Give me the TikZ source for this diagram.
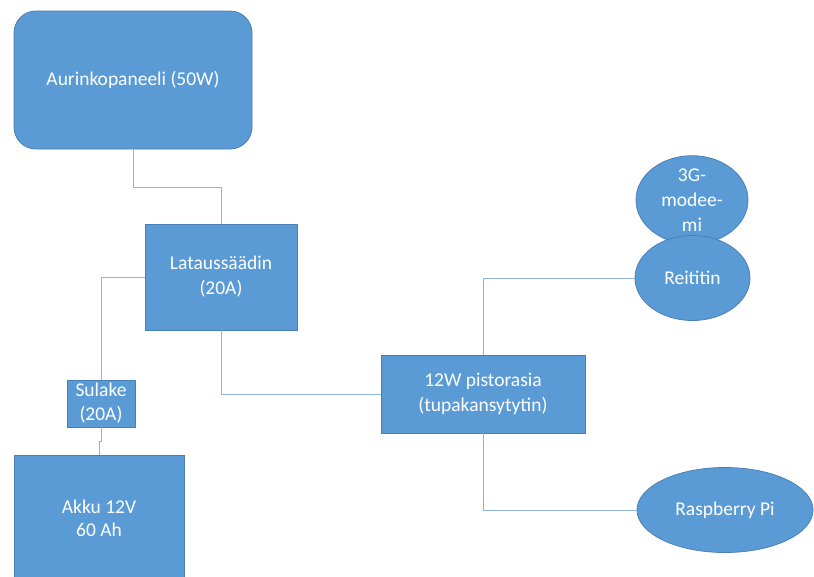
\documentclass[tikz,border=0pt]{standalone}
\usepackage{fontspec}
\setmainfont{Carlito}
\usetikzlibrary{shapes.geometric}
\definecolor{boxfill}{HTML}{5B9BD5}
\definecolor{boxline}{HTML}{4A7FB5}
\definecolor{wirecol}{HTML}{8FB4D9}
\tikzset{
  blk/.style={draw=boxline, line width=0.8pt, fill=boxfill, text=white, inner sep=0pt,
     font=\fontsize{19.5}{25}\selectfont, align=center},
  rbox/.style={blk, rectangle},
  ebox/.style={blk, ellipse},
  wire/.style={draw=wirecol, line width=0.9pt}
}
\begin{document}
\begin{tikzpicture}[x=1pt,y=-1pt]
\clip (0,0) rectangle (814,576);
\fill[white] (0,0) rectangle (814,576);
\node[rbox, rounded corners=22pt, minimum width=238pt, minimum height=138pt] (pan) at (133,80) {Aurinkopaneeli (50W)};
\node[rbox, minimum width=152pt, minimum height=106pt] (lat) at (221,277) {Lataussäädin\\(20A)};
\node[rbox, minimum width=68pt, minimum height=47pt, font=\fontsize{19.5}{24}\selectfont] (sul) at (101,403.5) {Sulake\\(20A)};
\node[rbox, minimum width=170pt, minimum height=127pt, font=\fontsize{19.5}{23}\selectfont] (akku) at (99,518.5) {Akku 12V\\60 Ah};
\node[rbox, minimum width=204pt, minimum height=78pt] (pis) at (483,394) {12W pistorasia\\(tupakansytytin)};
\node[ebox, minimum width=112pt, minimum height=70pt] (modem) at (692,200) {3G-\\modee-\\mi};
\node[ebox, minimum width=115pt, minimum height=85pt] (reit) at (692.5,278) {Reititin};
\node[ebox, minimum width=176pt, minimum height=85pt] (rasp) at (725,510) {Raspberry Pi};
\draw[wire] (pan.south) -- ++(0,38) -| (lat.north);
\draw[wire] (lat.west) -| (sul.north);
\draw[wire] (sul.south) -- ++(0,14) -| (akku.north);
\draw[wire] (lat.south) |- (pis.west);
\draw[wire] (pis.north) |- (reit.west);
\draw[wire] (pis.south) |- (rasp.west);
\end{tikzpicture}
\end{document}
